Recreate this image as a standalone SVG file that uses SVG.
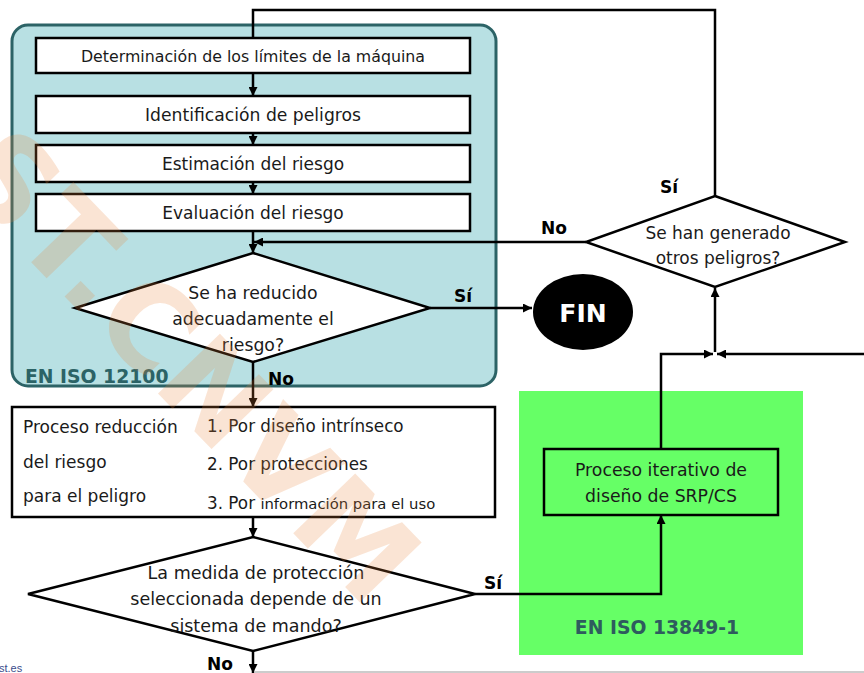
<svg xmlns="http://www.w3.org/2000/svg" width="864" height="673" viewBox="0 0 864 673">
<defs>
<style>
.t{font-family:"DejaVu Sans","Liberation Sans",sans-serif;fill:#1a1a1a;}
.box{fill:#fff;stroke:#000;stroke-width:2.5;}
.ln{fill:none;stroke:#000;stroke-width:2.5;}
.lbl{font-family:"DejaVu Sans","Liberation Sans",sans-serif;font-weight:bold;fill:#000;font-size:17px;}
.std{font-family:"DejaVu Sans","Liberation Sans",sans-serif;font-weight:bold;font-size:18.8px;}
</style>
<marker id="ah" viewBox="0 0 10 10" refX="10" refY="5" markerWidth="9" markerHeight="9" markerUnits="userSpaceOnUse" orient="auto">
<path d="M0,0 L10,5 L0,10 z" fill="#000"/>
</marker>
</defs>
<rect width="864" height="673" fill="#fff"/>

<g id="grp-12100">
<rect x="12" y="25" width="484" height="361" rx="16" fill="#B8E0E3" stroke="#2C6366" stroke-width="3"/>
<text class="std" x="25" y="383" fill="#2C6366">EN ISO 12100</text>
</g>

<g id="grp-13849">
<rect x="519" y="391" width="284" height="264" fill="#66FF66"/>
<text class="std" x="657" y="634" text-anchor="middle" fill="#2E5C5E">EN ISO 13849-1</text>
</g>

<g id="connectors">
<polyline class="ln" points="253,38 253,10 715,10 715,196"/>
<line class="ln" x1="253" y1="73" x2="253" y2="96" marker-end="url(#ah)"/>
<line class="ln" x1="253" y1="133" x2="253" y2="145" marker-end="url(#ah)"/>
<line class="ln" x1="253" y1="182" x2="253" y2="194" marker-end="url(#ah)"/>
<line class="ln" x1="253" y1="231" x2="253" y2="253" marker-end="url(#ah)"/>
<line class="ln" x1="586" y1="242" x2="254" y2="242" marker-end="url(#ah)"/>
<line class="ln" x1="430" y1="308" x2="532" y2="308" marker-end="url(#ah)"/>
<line class="ln" x1="253" y1="362" x2="253" y2="407" marker-end="url(#ah)"/>
<line class="ln" x1="253" y1="517" x2="253" y2="537" marker-end="url(#ah)"/>
<line class="ln" x1="253" y1="651" x2="253" y2="673" marker-end="url(#ah)"/>
<polyline class="ln" points="475,594 661,594 661,515" marker-end="url(#ah)"/>
<polyline class="ln" points="661,449 661,354 713,354" marker-end="url(#ah)"/>
<line class="ln" x1="864" y1="354" x2="717" y2="354" marker-end="url(#ah)"/>
<line class="ln" x1="715" y1="352" x2="715" y2="288" marker-end="url(#ah)"/>
<text class="lbl" x="454" y="302">Sí</text>
<text class="lbl" x="268" y="385">No</text>
<text class="lbl" x="541" y="234">No</text>
<text class="lbl" x="660" y="193">Sí</text>
<text class="lbl" x="484" y="589">Sí</text>
<text class="lbl" x="207" y="670">No</text>
</g>

<g id="n-limites">
<rect class="box" x="36" y="38" width="434" height="35"/>
<text class="t" x="253" y="62" font-size="15.8" text-anchor="middle">Determinación de los límites de la máquina</text>
</g>
<g id="n-identificacion">
<rect class="box" x="36" y="96" width="434" height="37"/>
<text class="t" x="253" y="121" font-size="17.2" text-anchor="middle">Identificación de peligros</text>
</g>
<g id="n-estimacion">
<rect class="box" x="36" y="145" width="434" height="37"/>
<text class="t" x="253" y="170" font-size="17" text-anchor="middle">Estimación del riesgo</text>
</g>
<g id="n-evaluacion">
<rect class="box" x="36" y="194" width="434" height="37"/>
<text class="t" x="253" y="219" font-size="17" text-anchor="middle">Evaluación del riesgo</text>
</g>

<g id="n-reducido">
<polygon class="box" points="253,253 430,308 253,362 75,308"/>
<text class="t" font-size="17.3" text-anchor="middle"><tspan x="253" y="299">Se ha reducido</tspan><tspan x="253" y="325">adecuadamente el</tspan><tspan x="253" y="351">riesgo?</tspan></text>
</g>

<g id="n-fin">
<ellipse cx="583" cy="312" rx="50" ry="38" fill="#000"/>
<text x="583" y="322" font-family="DejaVu Sans, sans-serif" font-weight="bold" font-size="25" fill="#fff" text-anchor="middle">FIN</text>
</g>

<g id="n-otros">
<polygon class="box" points="715,196 845,242 715,287 586,242"/>
<text class="t" font-size="17" text-anchor="middle"><tspan x="718" y="239">Se han generado</tspan><tspan x="718" y="264">otros peligros?</tspan></text>
</g>

<g id="n-proceso">
<rect class="box" x="12" y="407" width="483" height="110"/>
<text class="t" font-size="17"><tspan x="23" y="433">Proceso reducción</tspan><tspan x="23" y="468">del riesgo</tspan><tspan x="23" y="502">para el peligro</tspan></text>
<text class="t" font-size="16.8"><tspan x="207" y="432">1. Por diseño intrínseco</tspan><tspan x="207" y="470">2. Por protecciones</tspan><tspan x="207" y="509">3. Por <tspan font-size="14.8">información para el uso</tspan></tspan></text>
</g>

<g id="n-medida">
<polygon class="box" points="253,537 475,594 253,651 28,594"/>
<text class="t" font-size="17.5" text-anchor="middle"><tspan x="256" y="579">La medida de protección</tspan><tspan x="256" y="605">seleccionada depende de un</tspan><tspan x="256" y="632">sistema de mando?</tspan></text>
</g>

<g id="n-srp">
<rect x="544" y="449" width="234" height="66" fill="none" stroke="#000" stroke-width="2.5"/>
<text class="t" font-size="17.3" text-anchor="middle"><tspan x="661" y="476">Proceso iterativo de</tspan><tspan x="661" y="502">diseño de SRP/CS</tspan></text>
</g>

<line x1="255" y1="672" x2="864" y2="672" stroke="#bbb" stroke-width="1.5"/>
<text x="-1" y="672" font-family="Liberation Sans, sans-serif" font-size="11" fill="#3b4c8c">st.es</text>

<text transform="translate(-20,150) rotate(46)" font-family="DejaVu Sans, sans-serif" font-weight="bold" font-size="118" fill="#E8853C" fill-opacity="0.22" dominant-baseline="central" textLength="600" lengthAdjust="spacing">ST.CNVM</text>
</svg>
